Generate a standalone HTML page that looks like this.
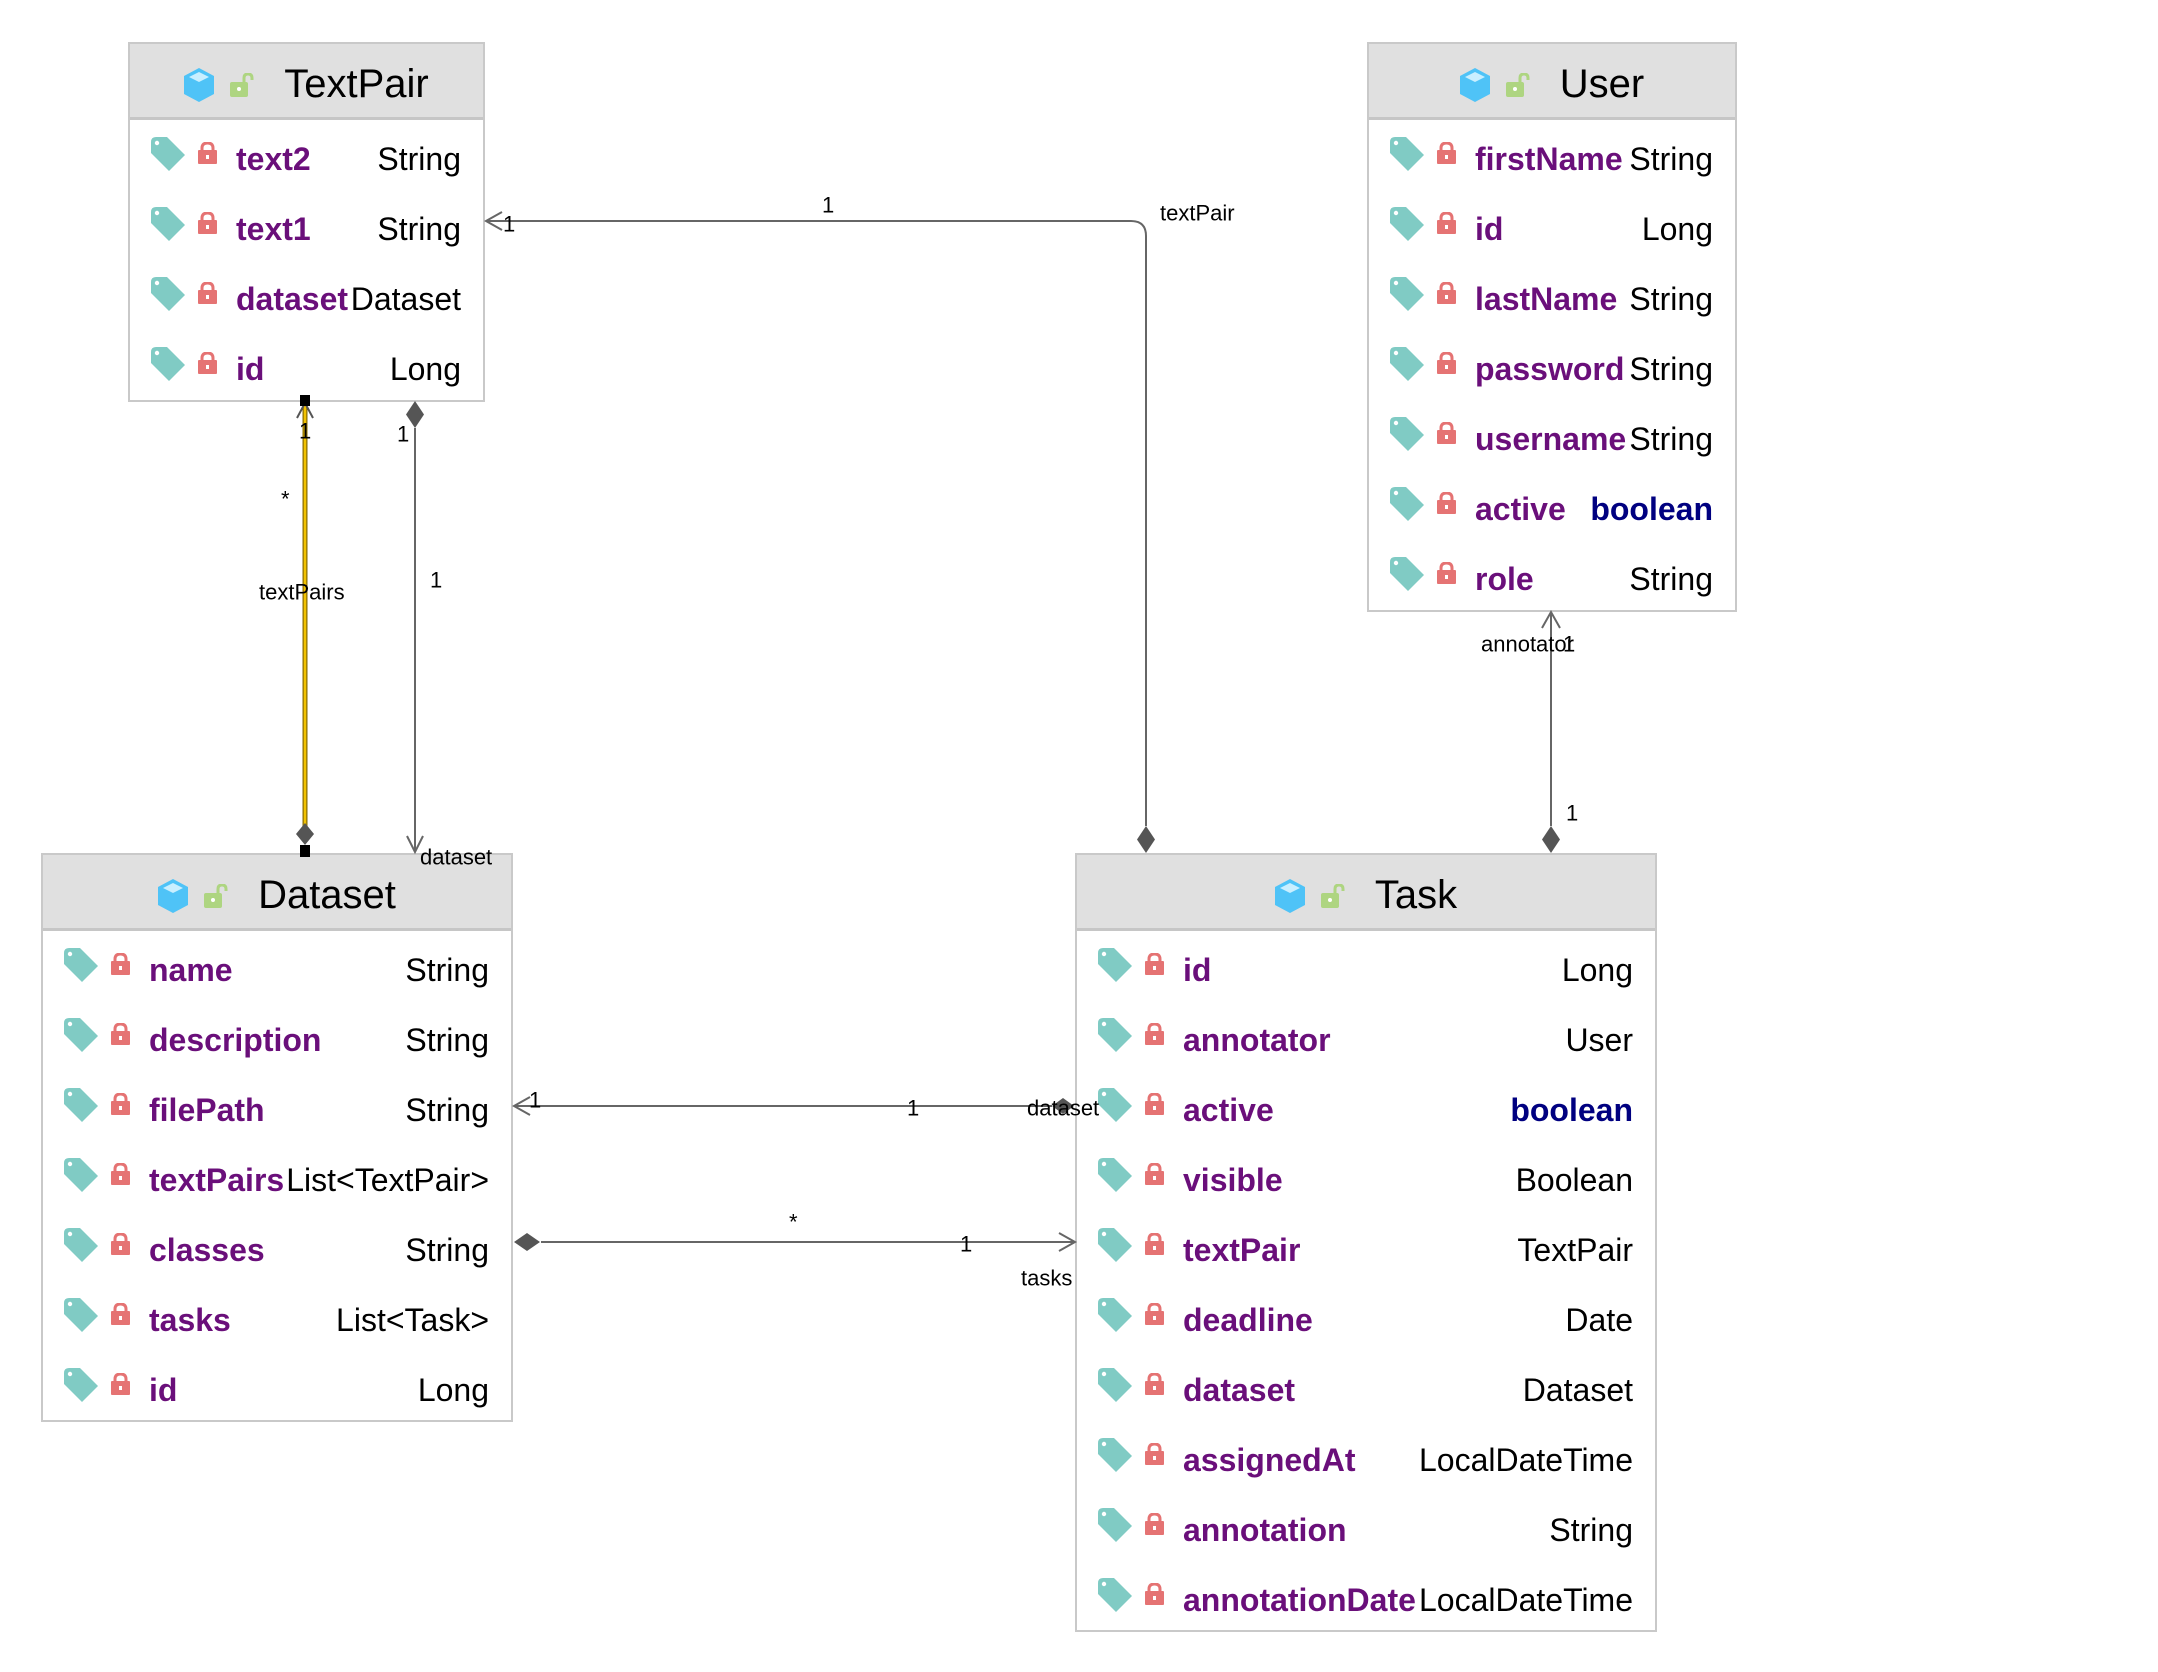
<!DOCTYPE html>
<html><head><meta charset="utf-8"><style>
*{margin:0;padding:0;box-sizing:border-box}
body{width:2158px;height:1672px;background:#fff;position:relative;overflow:hidden;font-family:"Liberation Sans",sans-serif}
.box{position:absolute;border:2px solid #c9c9c9;background:#fff}
.hd{height:76px;background:#e0e0e0;border-bottom:3px solid #c6c6c6;display:flex;align-items:center;justify-content:center;padding-top:8px}
.hd .ttl{font-size:40px;color:#000;margin-left:30px}
.hd .cube{margin-right:16px}
.bd{padding-top:4px}
.r{position:relative;height:70px}
.tg{position:absolute;left:21px;top:13px}
.lk{position:absolute;left:68px;top:18px}
.n{position:absolute;left:106px;top:0;line-height:70px;font-size:32px;font-weight:bold;color:#6a0f7a;white-space:nowrap}
.t{position:absolute;right:22px;top:0;line-height:70px;font-size:32px;color:#000;white-space:nowrap}
.t.b{font-weight:bold;color:#000080}
svg.ov{position:absolute;left:0;top:0}
</style></head><body>
<svg width="0" height="0" style="position:absolute">
<defs>
<symbol id="tag" viewBox="0 0 34 34"><path d="M5,0 H16 L34,18 L18,34 L0,16 V5 Q0,0 5,0 Z" fill="#80cbc4"/><circle cx="6" cy="6" r="2.2" fill="#fff"/></symbol>
<symbol id="lock" viewBox="0 0 19 22"><path d="M4,9 V6 Q4,1 9.5,1 Q15,1 15,6 V9" fill="none" stroke="#e57373" stroke-width="3"/><rect x="0" y="8" width="19" height="14" rx="1" fill="#e57373"/><rect x="8" y="13" width="3" height="4" fill="#fff"/></symbol>
<symbol id="cube" viewBox="0 0 30 34"><polygon points="15,0 30,8 30,26 15,34 0,26 0,8" fill="#4fc3f7"/><polygon points="15,4 25,9 15,14 5,9" fill="#c9efff"/></symbol>
<symbol id="glock" viewBox="0 0 24 24"><path d="M14,9 V5 Q14,1 18,1 Q22,1 22,5 V7" fill="none" stroke="#aed581" stroke-width="3"/><rect x="0" y="9" width="18" height="15" rx="2" fill="#aed581"/><circle cx="9" cy="16" r="2" fill="#fff"/></symbol>
</defs></svg>

<!-- TextPair -->
<div class="box" style="left:128px;top:42px;width:357px;height:360px">
<div class="hd"><svg class="cube" width="30" height="34"><use href="#cube"/></svg><svg width="24" height="24"><use href="#glock"/></svg><span class="ttl">TextPair</span></div>
<div class="bd">
<div class="r"><svg class="tg" width="34" height="34"><use href="#tag"/></svg><svg class="lk" width="19" height="22"><use href="#lock"/></svg><span class="n">text2</span><span class="t">String</span></div>
<div class="r"><svg class="tg" width="34" height="34"><use href="#tag"/></svg><svg class="lk" width="19" height="22"><use href="#lock"/></svg><span class="n">text1</span><span class="t">String</span></div>
<div class="r"><svg class="tg" width="34" height="34"><use href="#tag"/></svg><svg class="lk" width="19" height="22"><use href="#lock"/></svg><span class="n">dataset</span><span class="t">Dataset</span></div>
<div class="r"><svg class="tg" width="34" height="34"><use href="#tag"/></svg><svg class="lk" width="19" height="22"><use href="#lock"/></svg><span class="n">id</span><span class="t">Long</span></div>
</div></div>

<!-- User -->
<div class="box" style="left:1367px;top:42px;width:370px;height:570px">
<div class="hd"><svg class="cube" width="30" height="34"><use href="#cube"/></svg><svg width="24" height="24"><use href="#glock"/></svg><span class="ttl">User</span></div>
<div class="bd">
<div class="r"><svg class="tg" width="34" height="34"><use href="#tag"/></svg><svg class="lk" width="19" height="22"><use href="#lock"/></svg><span class="n">firstName</span><span class="t">String</span></div>
<div class="r"><svg class="tg" width="34" height="34"><use href="#tag"/></svg><svg class="lk" width="19" height="22"><use href="#lock"/></svg><span class="n">id</span><span class="t">Long</span></div>
<div class="r"><svg class="tg" width="34" height="34"><use href="#tag"/></svg><svg class="lk" width="19" height="22"><use href="#lock"/></svg><span class="n">lastName</span><span class="t">String</span></div>
<div class="r"><svg class="tg" width="34" height="34"><use href="#tag"/></svg><svg class="lk" width="19" height="22"><use href="#lock"/></svg><span class="n">password</span><span class="t">String</span></div>
<div class="r"><svg class="tg" width="34" height="34"><use href="#tag"/></svg><svg class="lk" width="19" height="22"><use href="#lock"/></svg><span class="n">username</span><span class="t">String</span></div>
<div class="r"><svg class="tg" width="34" height="34"><use href="#tag"/></svg><svg class="lk" width="19" height="22"><use href="#lock"/></svg><span class="n">active</span><span class="t b">boolean</span></div>
<div class="r"><svg class="tg" width="34" height="34"><use href="#tag"/></svg><svg class="lk" width="19" height="22"><use href="#lock"/></svg><span class="n">role</span><span class="t">String</span></div>
</div></div>

<!-- Dataset -->
<div class="box" style="left:41px;top:853px;width:472px;height:569px">
<div class="hd"><svg class="cube" width="30" height="34"><use href="#cube"/></svg><svg width="24" height="24"><use href="#glock"/></svg><span class="ttl">Dataset</span></div>
<div class="bd">
<div class="r"><svg class="tg" width="34" height="34"><use href="#tag"/></svg><svg class="lk" width="19" height="22"><use href="#lock"/></svg><span class="n">name</span><span class="t">String</span></div>
<div class="r"><svg class="tg" width="34" height="34"><use href="#tag"/></svg><svg class="lk" width="19" height="22"><use href="#lock"/></svg><span class="n">description</span><span class="t">String</span></div>
<div class="r"><svg class="tg" width="34" height="34"><use href="#tag"/></svg><svg class="lk" width="19" height="22"><use href="#lock"/></svg><span class="n">filePath</span><span class="t">String</span></div>
<div class="r"><svg class="tg" width="34" height="34"><use href="#tag"/></svg><svg class="lk" width="19" height="22"><use href="#lock"/></svg><span class="n">textPairs</span><span class="t">List&lt;TextPair&gt;</span></div>
<div class="r"><svg class="tg" width="34" height="34"><use href="#tag"/></svg><svg class="lk" width="19" height="22"><use href="#lock"/></svg><span class="n">classes</span><span class="t">String</span></div>
<div class="r"><svg class="tg" width="34" height="34"><use href="#tag"/></svg><svg class="lk" width="19" height="22"><use href="#lock"/></svg><span class="n">tasks</span><span class="t">List&lt;Task&gt;</span></div>
<div class="r"><svg class="tg" width="34" height="34"><use href="#tag"/></svg><svg class="lk" width="19" height="22"><use href="#lock"/></svg><span class="n">id</span><span class="t">Long</span></div>
</div></div>

<!-- Task -->
<div class="box" style="left:1075px;top:853px;width:582px;height:779px">
<div class="hd"><svg class="cube" width="30" height="34"><use href="#cube"/></svg><svg width="24" height="24"><use href="#glock"/></svg><span class="ttl">Task</span></div>
<div class="bd">
<div class="r"><svg class="tg" width="34" height="34"><use href="#tag"/></svg><svg class="lk" width="19" height="22"><use href="#lock"/></svg><span class="n">id</span><span class="t">Long</span></div>
<div class="r"><svg class="tg" width="34" height="34"><use href="#tag"/></svg><svg class="lk" width="19" height="22"><use href="#lock"/></svg><span class="n">annotator</span><span class="t">User</span></div>
<div class="r"><svg class="tg" width="34" height="34"><use href="#tag"/></svg><svg class="lk" width="19" height="22"><use href="#lock"/></svg><span class="n">active</span><span class="t b">boolean</span></div>
<div class="r"><svg class="tg" width="34" height="34"><use href="#tag"/></svg><svg class="lk" width="19" height="22"><use href="#lock"/></svg><span class="n">visible</span><span class="t">Boolean</span></div>
<div class="r"><svg class="tg" width="34" height="34"><use href="#tag"/></svg><svg class="lk" width="19" height="22"><use href="#lock"/></svg><span class="n">textPair</span><span class="t">TextPair</span></div>
<div class="r"><svg class="tg" width="34" height="34"><use href="#tag"/></svg><svg class="lk" width="19" height="22"><use href="#lock"/></svg><span class="n">deadline</span><span class="t">Date</span></div>
<div class="r"><svg class="tg" width="34" height="34"><use href="#tag"/></svg><svg class="lk" width="19" height="22"><use href="#lock"/></svg><span class="n">dataset</span><span class="t">Dataset</span></div>
<div class="r"><svg class="tg" width="34" height="34"><use href="#tag"/></svg><svg class="lk" width="19" height="22"><use href="#lock"/></svg><span class="n">assignedAt</span><span class="t">LocalDateTime</span></div>
<div class="r"><svg class="tg" width="34" height="34"><use href="#tag"/></svg><svg class="lk" width="19" height="22"><use href="#lock"/></svg><span class="n">annotation</span><span class="t">String</span></div>
<div class="r"><svg class="tg" width="34" height="34"><use href="#tag"/></svg><svg class="lk" width="19" height="22"><use href="#lock"/></svg><span class="n">annotationDate</span><span class="t">LocalDateTime</span></div>
</div></div>

<svg class="ov" width="2158" height="1672" font-family="Liberation Sans, sans-serif" font-size="22">
<g fill="none" stroke="#666" stroke-width="2">
<path d="M1146,826 V236 Q1146,221 1131,221 H486"/>
<polyline points="502,212 486,221 502,230"/>
<line x1="415" y1="428" x2="415" y2="852"/>
<polyline points="407,836 415,852 423,836"/>
<line x1="514" y1="1106" x2="1052" y2="1106"/>
<polyline points="530,1097 514,1106 530,1115"/>
<line x1="541" y1="1242" x2="1075" y2="1242"/>
<polyline points="1059,1233 1075,1242 1059,1251"/>
<line x1="1551" y1="612" x2="1551" y2="826"/>
<polyline points="1542,628 1551,612 1560,628"/>
</g>
<line x1="305" y1="405" x2="305" y2="826" stroke="#8a6d00" stroke-width="5"/>
<line x1="305" y1="405" x2="305" y2="826" stroke="#f2c200" stroke-width="2.5"/>
<polyline points="297,418 305,403 313,418" fill="none" stroke="#555" stroke-width="2"/>
<rect x="300" y="395" width="10" height="11" fill="#000"/>
<rect x="300" y="845" width="10" height="12" fill="#000"/>
<g fill="#555">
<polygon points="1146,826 1155,839.5 1146,853 1137,839.5"/>
<polygon points="1551,826 1560,839.5 1551,853 1542,839.5"/>
<polygon points="415,401 424,414.5 415,428 406,414.5"/>
<polygon points="305,823 314,834 305,845 296,834"/>
<polygon points="1052,1106 1063,1098 1074,1106 1063,1114"/>
<polygon points="514,1242 527,1233 540,1242 527,1251"/>
</g>
<g fill="#000" dominant-baseline="central">
<text x="822" y="205">1</text>
<text x="503" y="224">1</text>
<text x="1160" y="213">textPair</text>
<text x="299" y="431">1</text>
<text x="281" y="499">*</text>
<text x="259" y="592">textPairs</text>
<text x="397" y="434">1</text>
<text x="430" y="580">1</text>
<text x="420" y="857">dataset</text>
<text x="529" y="1100">1</text>
<text x="907" y="1108">1</text>
<text x="1027" y="1108">dataset</text>
<text x="789" y="1222">*</text>
<text x="960" y="1244">1</text>
<text x="1021" y="1278">tasks</text>
<text x="1481" y="644">annotator</text>
<text x="1563" y="644">1</text>
<text x="1566" y="813">1</text>
</g>
</svg>
</body></html>
